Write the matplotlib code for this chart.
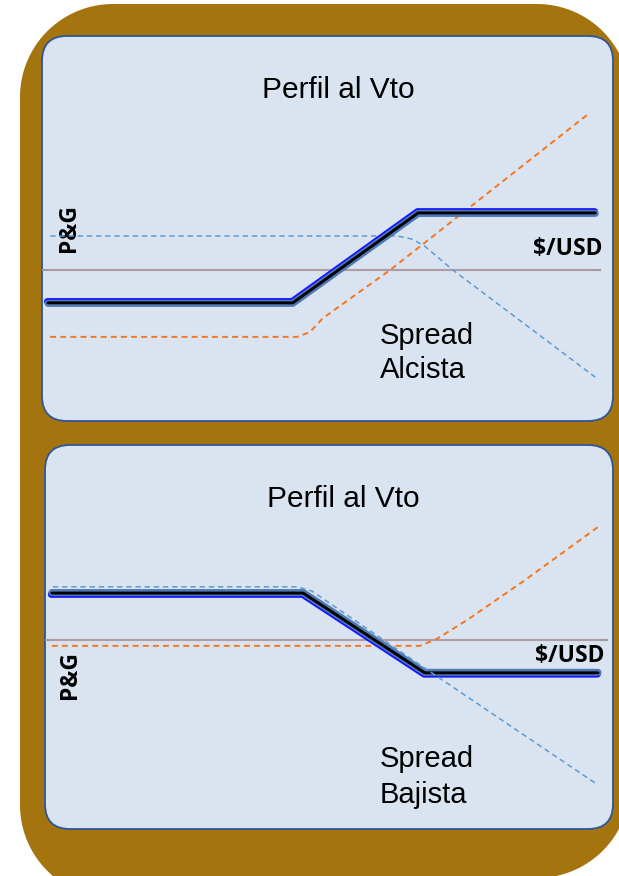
import numpy as np
import matplotlib.pyplot as plt
from matplotlib.patches import FancyBboxPatch, Polygon
from matplotlib.transforms import offset_copy

# Spread alcista: compra call K1, vende call K2  (precio $/USD vs P&G)
precio_alc = [0, 44.5, 67.3, 99.5]
pyg_alc = [-8.4, -8.4, 14.6, 14.6]
call_larga_alc_x = [0.4, 45.3, 47.6, 50.0, 62.2, 98.5]
call_larga_alc_y = [-17.1, -17.1, -15.9, -12.3, 0.0, 40.2]
call_vend_alc_x = [0.4, 63.5, 66.2, 68.5, 73.6, 99.5]
call_vend_alc_y = [8.7, 8.7, 7.9, 6.1, 0.0, -27.4]
cero_alc_x = [-1.1, 100.4]

# Spread bajista: vende call K1, compra call K2
precio_baj = [0.7, 46.4, 68.5, 100.0]
pyg_baj = [12.0, 12.0, -8.4, -8.4]
call_larga_baj_x = [0.7, 67.6, 70.7, 76.2, 86.7, 100.0]
call_larga_baj_y = [-1.5, -1.5, 0.3, 5.1, 15.3, 28.9]
call_vend_baj_x = [0.9, 45.3, 48.0, 68.2, 99.5]
call_vend_baj_y = [13.6, 13.6, 12.5, -6.9, -36.6]
cero_baj_x = [-0.5, 101.6]

titulo = "Perfil al Vto"
eje_y = "P&G"
eje_x = "$/USD"

W, H = 619, 876
MARRON = "#A4750E"
FONDO = "#DAE3F0"
BORDE = "#2F5597"
NARANJA = "#F4761F"
AZUL = "#5B9BD5"

fig = plt.figure(figsize=(W / 100, H / 100), dpi=100)
bg = fig.add_axes([0, 0, 1, 1])
bg.set_xlim(0, W)
bg.set_ylim(H, 0)
bg.axis("off")

# marco marron con esquinas redondeadas
esquinas = [(113, 97, 180, 270), (537, 97, 270, 360),
            (537, 785, 0, 90), (113, 805, 90, 180)]
pts = []
for cx, cy, a0, a1 in esquinas:
    a = np.radians(np.linspace(a0, a1, 40))
    pts += list(zip(cx + 93 * np.cos(a), cy + 93 * np.sin(a)))
bg.add_patch(Polygon(pts, closed=True, fc=MARRON, ec="none"))

paneles = [(42, 36, 613, 421), (45, 445, 613, 829)]
for x0, y0, x1, y1 in paneles:
    bg.add_patch(FancyBboxPatch((x0, y0), x1 - x0, y1 - y0,
                                boxstyle="round,pad=0,rounding_size=25",
                                fc=FONDO, ec=BORDE, lw=1.3))

SX, SY = 5.5, 3.91


def panel_ax(caja, org):
    x0, y0, x1, y1 = caja
    ox, oy = org
    ax = fig.add_axes([x0 / W, 1 - y1 / H, (x1 - x0) / W, (y1 - y0) / H])
    ax.set_xlim((x0 - ox) / SX, (x1 - ox) / SX)
    ax.set_ylim((oy - y1) / SY, (oy - y0) / SY)
    ax.axis("off")
    return ax


def trazo(ax, x, y, arriba):
    s = 1 if arriba else -1
    kw = dict(solid_capstyle="round", solid_joinstyle="round")
    t1 = offset_copy(ax.transData, fig=fig, x=-0.6, y=1.3 * s, units="dots")
    ax.plot(x, y, color="#1414FF", lw=5.0, transform=t1, **kw)
    t2 = offset_copy(ax.transData, fig=fig, x=0, y=-0.5 * s, units="dots")
    ax.plot(x, y, color="#4F79B4", lw=5.1, transform=t2, **kw)
    ax.plot(x, y, color="black", lw=2.1, **kw)


def cero(ax, xs):
    ax.plot(xs, [0, 0], color="#9C9C9C", lw=1.5)
    ax.plot([xs[0] + 1.3, xs[1] - 1.3], [0, 0], color="#B59DA6", lw=1.2)


# panel superior
ax1 = panel_ax(paneles[0], (48, 270))
cero(ax1, cero_alc_x)
ax1.plot(call_vend_alc_x, call_vend_alc_y, color=AZUL, lw=1.1, dashes=(3.5, 2.5))
ax1.plot(call_larga_alc_x, call_larga_alc_y, color=NARANJA, lw=1.4, dashes=(3, 2.2))
trazo(ax1, precio_alc, pyg_alc, True)

# panel inferior
ax2 = panel_ax(paneles[1], (48, 640))
cero(ax2, cero_baj_x)
ax2.plot(call_larga_baj_x, call_larga_baj_y, color=NARANJA, lw=1.4, dashes=(3, 2.2))
trazo(ax2, precio_baj, pyg_baj, False)
ax2.plot(call_vend_baj_x, call_vend_baj_y, color=AZUL, lw=1.1, dashes=(3.5, 2.5))

# textos
sans = "Liberation Sans"
bold = dict(family="Open Sans", weight="bold", fontsize=16.5)
for cx, base in [(338, 98), (343, 507)]:
    bg.text(cx, base, titulo, ha="center", va="baseline", family=sans, fontsize=21.5)
for palabra, base in [("Spread", 344), ("Alcista", 378), ("Spread", 767), ("Bajista", 803)]:
    bg.text(380, base, palabra, ha="left", va="baseline", family=sans, fontsize=21)
bg.text(69, 228, eje_y, rotation=90, ha="center", va="center", **bold)
bg.text(70, 675, eje_y, rotation=90, ha="center", va="center", **bold)
bg.text(603, 255, eje_x, ha="right", va="baseline", **bold)
bg.text(605, 662, eje_x, ha="right", va="baseline", **bold)

fig.savefig("out.png", dpi=100, facecolor="white")
